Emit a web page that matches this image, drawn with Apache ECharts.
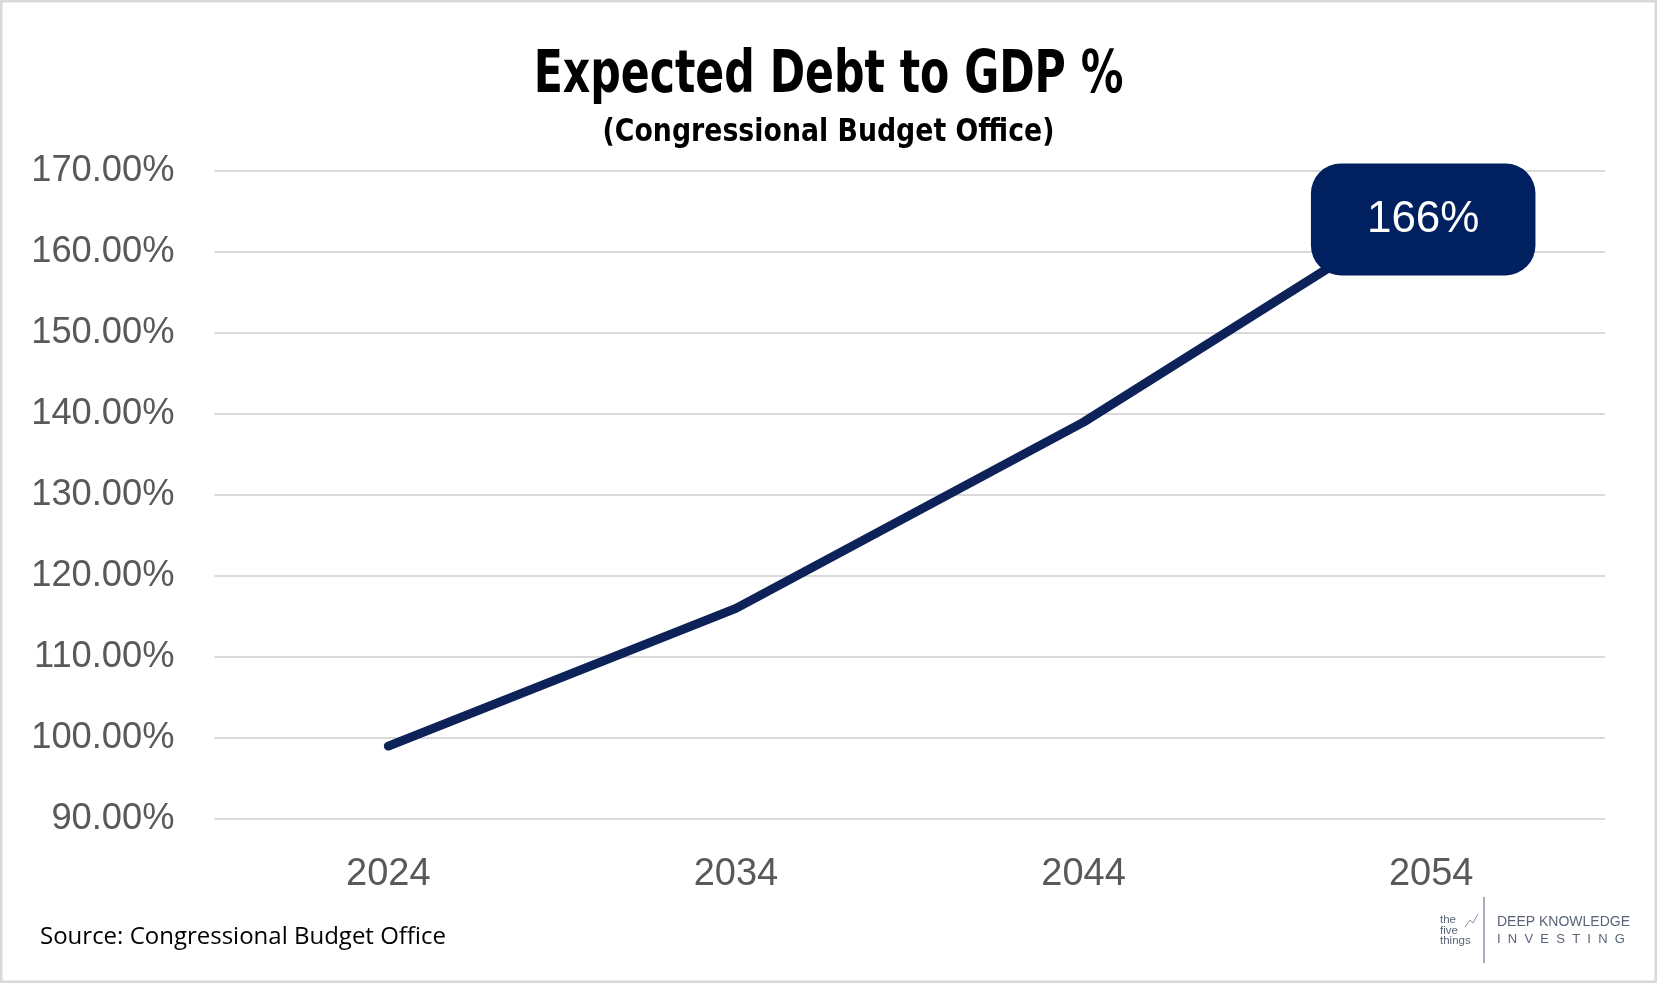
<!DOCTYPE html>
<html>
<head>
<meta charset="utf-8">
<script src="https://cdn.jsdelivr.net/npm/echarts@6/dist/echarts.min.js"></script>
<style>
html,body{margin:0;padding:0;background:#fff;}
#c{width:1657px;height:983px;}
</style>
</head>
<body>
<div id="c"></div>
<script>
const categories = ['2024', '2034', '2044', '2054'];
const debtToGdp = [99, 116, 139, 166];
const yTicks = { min: 90, max: 170, interval: 10 };
const labelText = '166%';

const chart = echarts.init(document.getElementById('c'));
const seriesData = debtToGdp.map((v, i) => {
  if (i === debtToGdp.length - 1) {
    return {
      value: v,
      label: {
        show: true,
        position: 'inside',
        offset: [-8, 16],
        formatter: labelText,
        color: '#ffffff',
        fontSize: 44,
        fontFamily: 'Liberation Sans, Arial, sans-serif',
        backgroundColor: '#002060',
        borderRadius: 30,
        padding: [35, 56, 33, 56]
      }
    };
  }
  return v;
});

const W = 1657;
chart.setOption({
  backgroundColor: '#ffffff',
  animation: false,
  grid: { left: 214.5, right: 52, top: 171, bottom: 164, containLabel: false },
  xAxis: {
    type: 'category',
    data: categories,
    boundaryGap: true,
    axisLine: { show: false },
    axisTick: { show: false },
    axisLabel: { color: '#595959', fontSize: 38, margin: 37, fontFamily: 'Liberation Sans, Arial, sans-serif' }
  },
  yAxis: {
    type: 'value',
    min: yTicks.min, max: yTicks.max, interval: yTicks.interval,
    axisLine: { show: false },
    axisTick: { show: false },
    splitLine: { lineStyle: { color: '#d9d9d9', width: 2 } },
    axisLabel: {
      color: '#595959', fontSize: 36.3, margin: 40,
      fontFamily: 'Liberation Sans, Arial, sans-serif',
      formatter: v => v.toFixed(2) + '%'
    }
  },
  series: [{
    type: 'line',
    data: seriesData,
    symbol: 'circle',
    symbolSize: 0,
    showSymbol: true,
    lineStyle: { color: '#0d2258', width: 9, cap: 'round', join: 'round' },
    itemStyle: { color: '#0d2258' },
    z: 3
  }],
  graphic: [
    { type: 'rect', shape: { x: 1, y: 1, width: 1655, height: 981 }, style: { fill: 'none', stroke: '#d9d9d9', lineWidth: 3 }, silent: true },
    { type: 'text', x: W / 2, y: 48, scaleX: 0.817, originX: 0, originY: 0,
      style: { text: 'Expected Debt to GDP %', fontSize: 58, fontWeight: 'bold', fill: '#000', align: 'center', verticalAlign: 'top', fontFamily: 'DejaVu Sans Condensed, DejaVu Sans, sans-serif' } },
    { type: 'text', x: W / 2, y: 117, scaleX: 0.93, originX: 0, originY: 0,
      style: { text: '(Congressional Budget Office)', fontSize: 32, fontWeight: 'bold', fill: '#000', align: 'center', verticalAlign: 'top', fontFamily: 'DejaVu Sans Condensed, DejaVu Sans, sans-serif' } },
    { type: 'text', left: 40, top: 925, style: { text: 'Source: Congressional Budget Office', fontSize: 24, fill: '#000', fontFamily: 'Open Sans, Liberation Sans, sans-serif' } },
    { type: 'line', shape: { x1: 1484, y1: 897, x2: 1484, y2: 963 }, style: { stroke: '#8a93a6', lineWidth: 1.5 } },
    { type: 'text', left: 1440, top: 914, style: { text: 'the\nfive\nthings', fontSize: 11.5, lineHeight: 10.5, fill: '#5a6478', fontFamily: 'Liberation Sans, sans-serif' } },
    { type: 'polyline', shape: { points: [[1465, 927], [1470, 920], [1473, 923], [1478, 914]] }, style: { stroke: '#8a93a6', lineWidth: 1, fill: 'none' } },
    { type: 'text', left: 1497, top: 915, style: { text: 'DEEP KNOWLEDGE', fontSize: 14, fill: '#5a6478', fontFamily: 'Liberation Sans, sans-serif' } },
    { type: 'text', left: 1497, top: 933, style: { text: 'I  N  V  E  S  T  I  N  G', fontSize: 13, fill: '#5a6478', fontFamily: 'Liberation Sans, sans-serif' } }
  ]
});
</script>
</body>
</html>
